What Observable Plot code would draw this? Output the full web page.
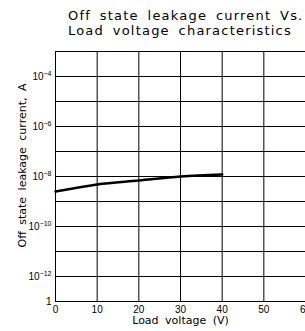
<!DOCTYPE html>
<html>
<head>
<meta charset="utf-8">
<script src="https://cdn.jsdelivr.net/npm/d3@7"></script>
<script src="https://cdn.jsdelivr.net/npm/@observablehq/plot@0.6"></script>
<style>
  html, body { margin: 0; padding: 0; background: #fff; }
  #title { height: 46px; box-sizing: border-box; padding: 8px 0 0 68px;
    font-family: "DejaVu Sans", sans-serif; font-size: 13px; line-height: 15px;
    letter-spacing: 1.2px; word-spacing: 3.5px; color: #000; white-space: nowrap; }
  svg { display: block; }
</style>
</head>
<body>
<div id="title">Off state leakage current Vs.<br>Load voltage characteristics</div>
<div id="chart"></div>
<script>
const voltage = [0, 10, 20, 30, 40];
const current = [2.5e-9, 4.8e-9, 6.9e-9, 1.0e-8, 1.2e-8];
const xTicks = [0, 10, 20, 30, 40, 50, 60];
const yGrid = [1e-13, 1e-12, 1e-11, 1e-10, 1e-9, 1e-8, 1e-7, 1e-6, 1e-5, 1e-4, 1e-3];
const yTicks = [1e-4, 1e-6, 1e-8, 1e-10, 1e-12, 1e-13];
const yTickLabels = ["10^-4", "10^-6", "10^-8", "10^-10", "10^-12", "1"];
const xLabel = "Load voltage (V)";
const yLabel = "Off state leakage current, A";

const data = voltage.map((v, i) => ({v, c: current[i]}));

const chart = Plot.plot({
  width: 305,
  height: 285,
  marginTop: 5,
  marginBottom: 30,
  marginLeft: 55,
  marginRight: 0,
  style: {fontFamily: "Liberation Sans, Arial, sans-serif", fontSize: "10px", color: "#000", background: "#fff"},
  x: {domain: [0, 60], axis: null},
  y: {type: "log", domain: [1e-13, 1e-3], axis: null},
  marks: [
    Plot.gridX(xTicks, {stroke: "#000", strokeOpacity: 1, strokeWidth: 1}),
    Plot.gridY(yGrid, {stroke: "#000", strokeOpacity: 1, strokeWidth: 1}),
    Plot.frame({stroke: "#000", strokeWidth: 1}),
    Plot.axisX(xTicks, {tickSize: 0, tickPadding: 4, fontSize: 10, label: null, tickFormat: d => String(d)}),
    Plot.axisY(yTicks, {tickSize: 0, tickPadding: 4, fontSize: 10, label: null,
      tickFormat: (d) => yTickLabels[yTicks.indexOf(d)]}),
    Plot.line(data, {x: "v", y: "c", stroke: "#000", strokeWidth: 2.6, curve: "monotone-x"}),
    Plot.text([xLabel], {frameAnchor: "bottom", dy: 22, fontSize: 11, fontFamily: "DejaVu Sans, sans-serif", letterSpacing: 0.5}),
    Plot.text([yLabel], {frameAnchor: "left", textAnchor: "middle", dx: -33, dy: -11, rotate: -90, fontSize: 11, fontFamily: "DejaVu Sans, sans-serif", letterSpacing: 0.5})
  ]
});

// superscripts for the y tick labels; wider word spacing for the axis labels
d3.select(chart).selectAll("text").each(function() {
  const t = this.textContent;
  if (t === xLabel || t === yLabel) d3.select(this).style("word-spacing", "3px");
  if (t.includes("^")) {
    const [base, exp] = t.split("^");
    const sel = d3.select(this);
    sel.text(null);
    sel.append("tspan").text(base);
    sel.append("tspan").attr("dy", "-0.55em").attr("font-size", "7px").text(exp.replace("-", "\u2212"));
  }
});
document.getElementById("chart").appendChild(chart);
</script>
</body>
</html>
